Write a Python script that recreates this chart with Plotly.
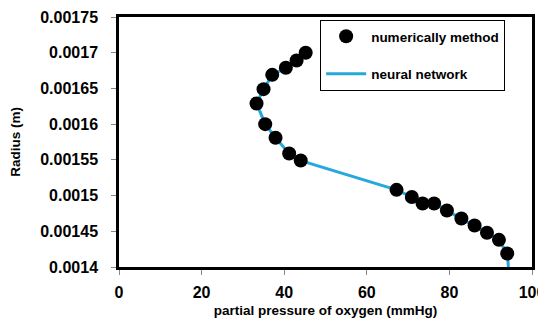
import plotly.graph_objects as go

# numerically method (data points)
num_x = [45.2, 43.0, 40.4, 37.1, 35.0, 33.3, 35.4, 37.9, 41.2, 44.0,
         67.2, 70.9, 73.5, 76.3, 79.4, 82.9, 86.1, 89.1, 92.0, 94.0]
num_y = [0.00170, 0.001689, 0.001679, 0.001669, 0.001649, 0.001629, 0.00160, 0.001581, 0.001559, 0.001549,
         0.001508, 0.001498, 0.001489, 0.001489, 0.001479, 0.001468, 0.001458, 0.001448, 0.001438, 0.001419]

# neural network curve
nn_x = num_x + [94.3]
nn_y = num_y + [0.0014]

x_ticks = [0, 20, 40, 60, 80, 100]
y_ticks = [0.0014, 0.00145, 0.0015, 0.00155, 0.0016, 0.00165, 0.0017, 0.00175]
y_tick_text = ["0.0014", "0.00145", "0.0015", "0.00155", "0.0016", "0.00165", "0.0017", "0.00175"]

fig = go.Figure()
fig.add_trace(go.Scatter(x=nn_x, y=nn_y, mode="lines", name="neural network",
                         line=dict(color="#25a9dc", width=3), legendrank=2,
                         legendgroup="b"))
fig.add_trace(go.Scatter(x=num_x, y=num_y, mode="markers", name="numerically method",
                         marker=dict(color="black", size=14), legendrank=1,
                         legendgroup="a"))

fnt = "Liberation Sans"
# page body has an 8px margin, so the figure is sized to fit the window
fig.update_layout(
    width=538, height=317,
    margin=dict(l=111, r=14, t=9, b=58),
    plot_bgcolor="white", paper_bgcolor="white",
    font=dict(family=fnt, color="black"),
    legend=dict(x=0.487, y=0.988, xanchor="left", yanchor="top",
                bgcolor="white", bordercolor="black", borderwidth=1,
                font=dict(size=13.5, family=fnt, weight="bold"),
                itemwidth=40, tracegroupgap=17, entrywidth=173),
    xaxis=dict(range=[0, 100], tickvals=x_ticks, ticks="outside", ticklen=5,
               tickcolor="#888", showline=True, linecolor="black", linewidth=2.5,
               mirror=True, showgrid=False, zeroline=False, automargin=False,
               ticklabelstandoff=4,
               tickfont=dict(size=16, family=fnt, weight="bold"),
               title=dict(text="partial pressure of oxygen (mmHg)",
                          font=dict(size=13.5, family=fnt, weight="bold"), standoff=6)),
    yaxis=dict(range=[0.0014, 0.00175], tickvals=y_ticks, ticktext=y_tick_text,
               ticks="outside", ticklen=5, tickcolor="#888",
               showline=True, linecolor="black", linewidth=2.5, mirror=True,
               showgrid=False, zeroline=False, automargin=False,
               ticklabelstandoff=10,
               tickfont=dict(size=16, family=fnt, weight="bold"),
               title=dict(text="Radius (m)",
                          font=dict(size=13.5, family=fnt, weight="bold"), standoff=18)),
)

fig.write_html("out.html")
